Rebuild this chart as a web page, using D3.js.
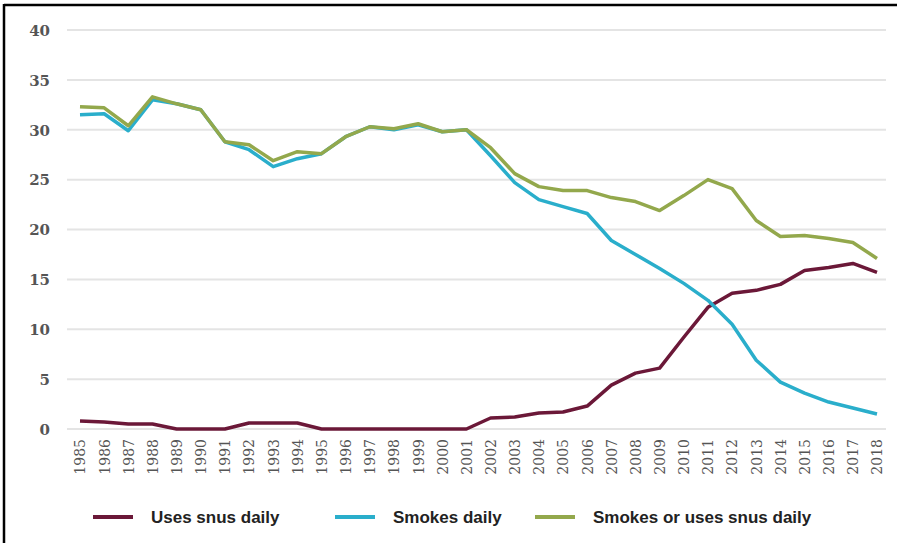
<!DOCTYPE html>
<html><head><meta charset="utf-8">
<script src="https://cdn.jsdelivr.net/npm/d3@7"></script>
<style>
html,body{margin:0;padding:0;background:#fff;}
svg{display:block;}
</style></head>
<body>
<svg id="chart" width="897" height="543"></svg>
<script>
const years = [1985,1986,1987,1988,1989,1990,1991,1992,1993,1994,1995,1996,1997,1998,1999,2000,2001,2002,2003,2004,2005,2006,2007,2008,2009,2010,2011,2012,2013,2014,2015,2016,2017,2018];
const usesSnus = [0.8,0.7,0.5,0.5,0,0,0,0.6,0.6,0.6,0,0,0,0,0,0,0,1.1,1.2,1.6,1.7,2.3,4.4,5.6,6.1,9.2,12.2,13.6,13.9,14.5,15.9,16.2,16.6,15.7];
const smokes = [31.5,31.6,29.9,33.0,32.6,32.0,28.8,28.0,26.3,27.1,27.6,29.3,30.3,30.0,30.5,29.8,30.0,27.4,24.7,23.0,22.3,21.6,18.9,17.5,16.1,14.6,12.9,10.5,6.9,4.7,3.6,2.7,2.1,1.5];
const smokesOrSnus = [32.3,32.2,30.4,33.3,32.6,32.0,28.8,28.5,26.9,27.8,27.6,29.3,30.3,30.1,30.6,29.8,30.0,28.2,25.6,24.3,23.9,23.9,23.2,22.8,21.9,23.4,25.0,24.1,20.9,19.3,19.4,19.1,18.7,17.1];
const yTicks = [0,5,10,15,20,25,30,35,40];
const seriesNames = ["Uses snus daily","Smokes daily","Smokes or uses snus daily"];
const seriesColors = ["#6b1838","#2aaecb","#93a84c"];

const svg = d3.select("#chart");
const x = d3.scalePoint().domain(years).range([80, 877]);
const y = d3.scaleLinear().domain([0, 40]).range([429, 30]);

// frame (top + left)
svg.append("line").attr("x1",4).attr("x2",897).attr("y1",5).attr("y2",5).attr("stroke","#000").attr("stroke-width",2.5);
svg.append("line").attr("x1",4).attr("x2",4).attr("y1",4).attr("y2",543).attr("stroke","#000").attr("stroke-width",2.5);

// grid
svg.append("g").selectAll("line").data(yTicks).join("line")
  .attr("x1",67).attr("x2",886)
  .attr("y1",d=>y(d)).attr("y2",d=>y(d))
  .attr("stroke","#e4e4e4").attr("stroke-width",2);

// y labels
const yAxis = d3.axisLeft(y).tickValues(yTicks).tickSize(0).tickPadding(0);
const gy = svg.append("g").attr("transform","translate(50,0)").call(yAxis);
gy.select(".domain").remove();
gy.selectAll("text").attr("font-family","'DejaVu Serif', serif").attr("font-size",15).attr("font-weight","bold").attr("fill","#555").attr("dy","0.35em");

// x labels
const xAxis = d3.axisBottom(x).tickSize(0).tickPadding(0);
const gx = svg.append("g").attr("transform","translate(0,437)").call(xAxis);
gx.select(".domain").remove();
gx.selectAll("text")
  .attr("font-family","'DejaVu Serif', serif").attr("font-size",14).attr("fill","#555")
  .attr("transform","rotate(-90)").attr("text-anchor","end").attr("x",-2).attr("y",0).attr("dy","0.35em");

// lines
const data = [usesSnus, smokes, smokesOrSnus];
const line = d3.line().x((d,i)=>x(years[i])).y(d=>y(d));
svg.append("g").selectAll("path").data(data).join("path")
  .attr("d",d=>line(d)).attr("fill","none")
  .attr("stroke",(d,i)=>seriesColors[i]).attr("stroke-width",3.5)
  .attr("stroke-linejoin","round");

// legend
const legendX = [93, 335, 535];
const lg = svg.append("g").selectAll("g").data(seriesNames).join("g")
  .attr("transform",(d,i)=>`translate(${legendX[i]},517)`);
lg.append("line").attr("x1",0).attr("x2",40).attr("y1",0).attr("y2",0)
  .attr("stroke",(d,i)=>seriesColors[i]).attr("stroke-width",4);
lg.append("text").attr("x",58).attr("y",0).attr("dy","0.35em")
  .attr("font-family","'Liberation Sans Narrow','Arial Narrow','Liberation Sans',sans-serif")
  .attr("font-weight","bold").attr("font-size",17).attr("fill","#222")
  .text(d=>d);
</script>
</body></html>
